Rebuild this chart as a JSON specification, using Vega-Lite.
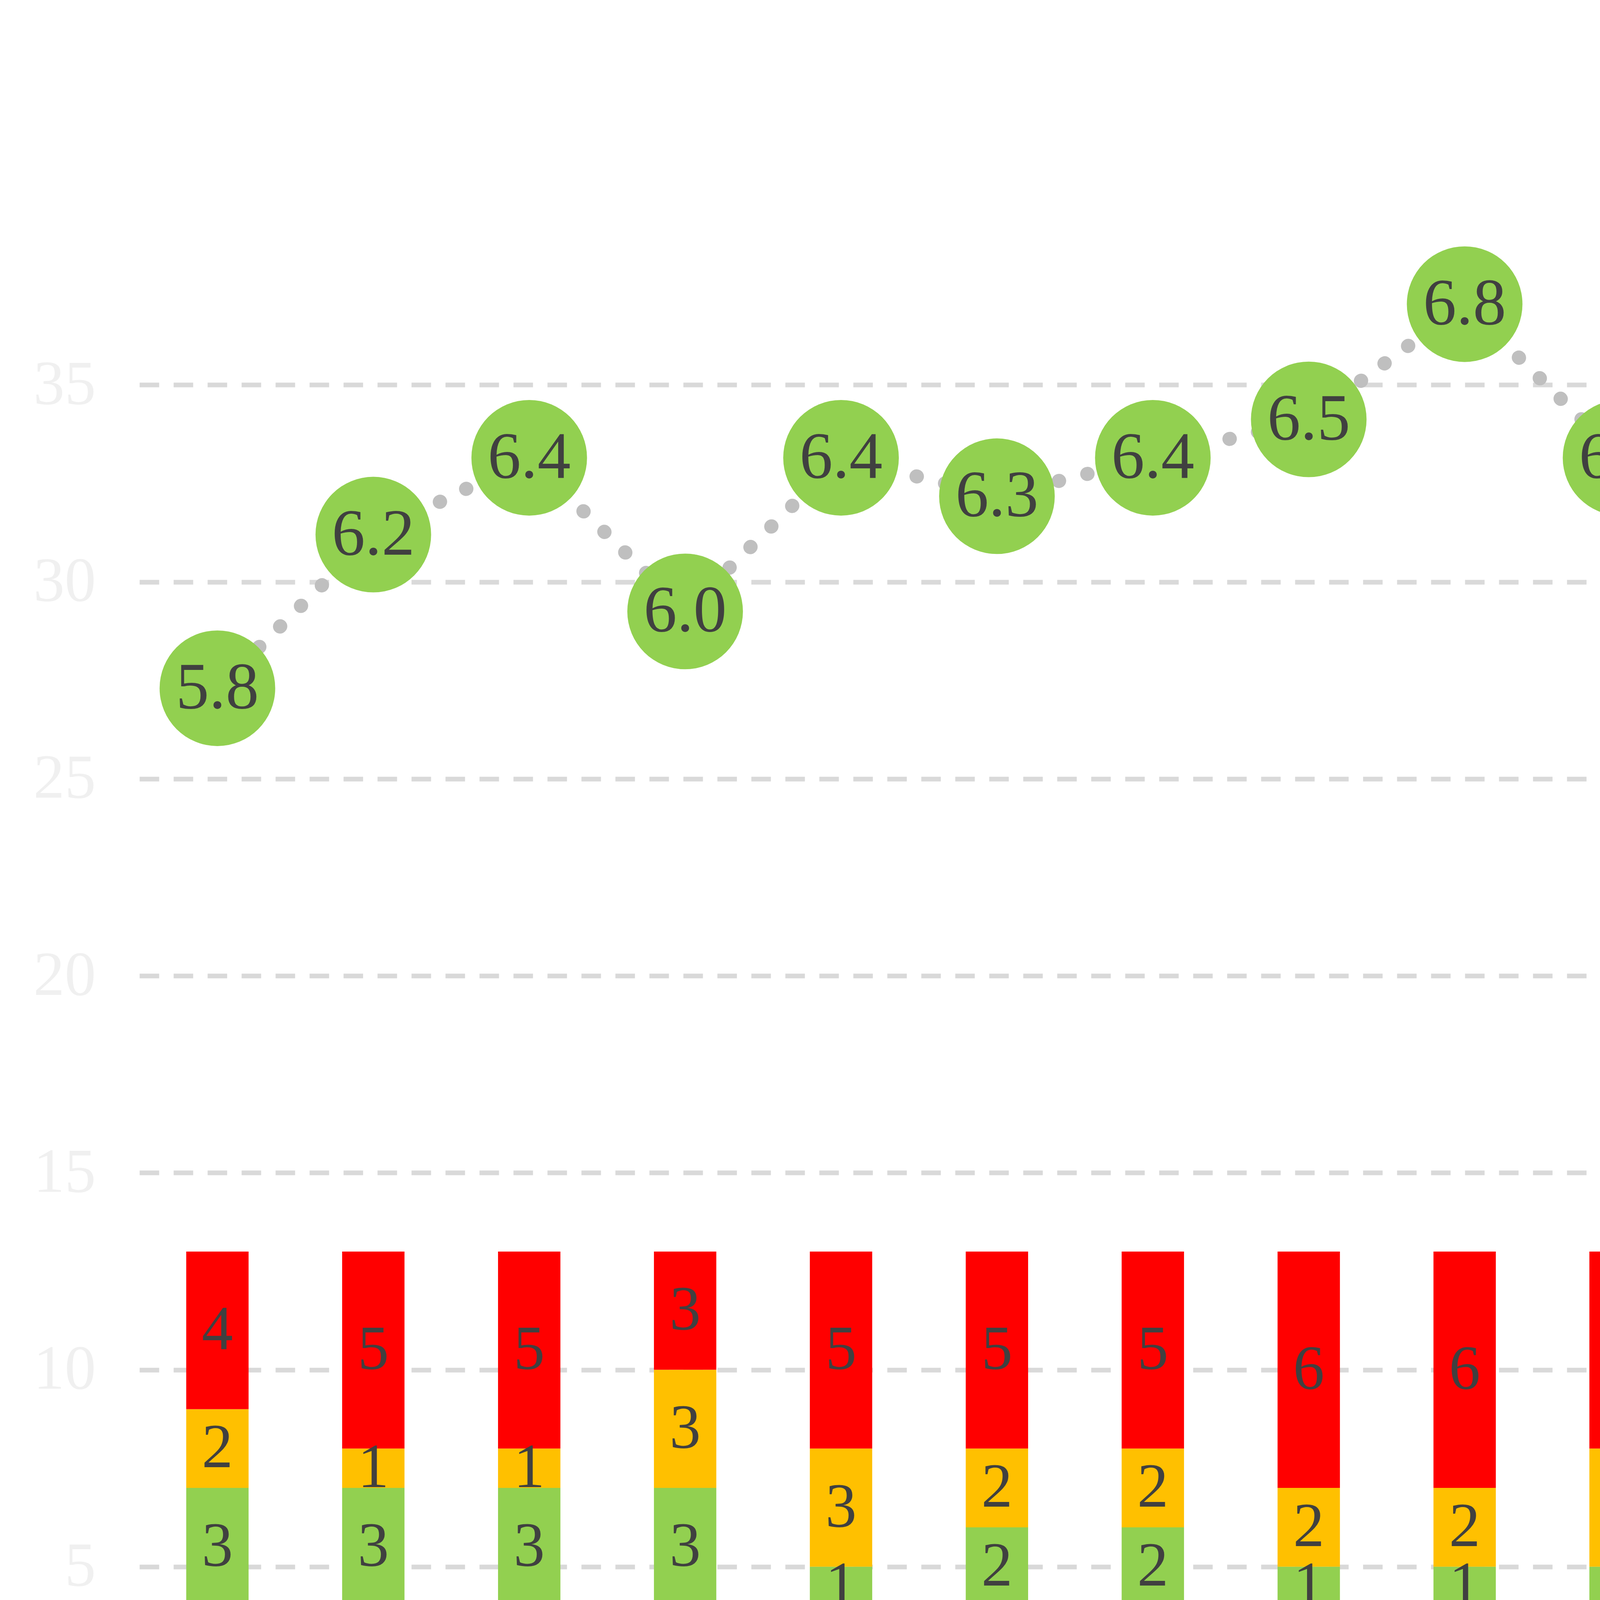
{
  "$schema": "https://vega.github.io/schema/vega-lite/v6.json",
  "width": 6785,
  "height": 3933,
  "padding": {"left": 357, "top": 582, "right": 572, "bottom": 779},
  "autosize": {"type": "none"},
  "background": "white",
  "config": {"view": {"stroke": null}},
  "datasets": {
    "rows": [
      {"m": "2025-06", "低迷": 3, "欠佳": 1, "穩定": 3, "偏熱": 2, "過熱": 4, "idx": 5.8},
      {"m": "2025-07", "低迷": 2, "欠佳": 2, "穩定": 3, "偏熱": 1, "過熱": 5, "idx": 6.2},
      {"m": "2025-08", "低迷": 2, "欠佳": 2, "穩定": 3, "偏熱": 1, "過熱": 5, "idx": 6.4},
      {"m": "2025-09", "低迷": 2, "欠佳": 2, "穩定": 3, "偏熱": 3, "過熱": 3, "idx": 6.0},
      {"m": "2025-10", "低迷": 2, "欠佳": 2, "穩定": 1, "偏熱": 3, "過熱": 5, "idx": 6.4},
      {"m": "2025-11", "低迷": 2, "欠佳": 2, "穩定": 2, "偏熱": 2, "過熱": 5, "idx": 6.3},
      {"m": "2025-12", "低迷": 2, "欠佳": 2, "穩定": 2, "偏熱": 2, "過熱": 5, "idx": 6.4},
      {"m": "2026-01", "低迷": 2, "欠佳": 2, "穩定": 1, "偏熱": 2, "過熱": 6, "idx": 6.5},
      {"m": "2026-02", "低迷": 2, "欠佳": 2, "穩定": 1, "偏熱": 2, "過熱": 6, "idx": 6.8},
      {"m": "2026-03", "低迷": 4, "欠佳": 0, "穩定": 1, "偏熱": 3, "過熱": 5, "idx": 6.4},
      {"m": "2026-04", "低迷": 4, "欠佳": 0, "穩定": 2, "偏熱": 1, "過熱": 6, "idx": 6.5},
      {"m": "2026-05", "低迷": 4, "欠佳": 0, "穩定": 1, "偏熱": 3, "過熱": 5, "idx": 6.3},
      {"m": "2026-06", "低迷": 4, "欠佳": 0, "穩定": 5, "偏熱": 3, "過熱": 3, "idx": 5.7},
      {"m": "2026-07", "低迷": 4, "欠佳": 0, "穩定": 4, "偏熱": 1, "過熱": 6, "idx": 6.1},
      {"m": "2026-08", "低迷": 4, "欠佳": 0, "穩定": 3, "偏熱": 2, "過熱": 6, "idx": 6.5},
      {"m": "2026-09", "低迷": 4, "欠佳": 0, "穩定": 4, "偏熱": 3, "過熱": 4, "idx": 6.1},
      {"m": "2026-10", "低迷": 4, "欠佳": 0, "穩定": 3, "偏熱": 3, "過熱": 5, "idx": 6.3}
    ],
    "box": [
      {"start": "2026-07", "end": "2026-10", "top": 37.9, "bottom": 0.3}
    ],
    "note": [
      {"m": "2026-09", "y": 24.5, "t": "預測值"}
    ]
  },
  "encoding": {
    "x": {
      "field": "m",
      "type": "nominal",
      "sort": null,
      "scale": {
        "domain": ["2025-06","2025-07","2025-08","2025-09","2025-10","2025-11","2025-12","2026-01","2026-02","2026-03","2026-04","2026-05","2026-06","2026-07","2026-08","2026-09","2026-10"],
        "paddingInner": 0.6,
        "paddingOuter": 0.3
      },
      "axis": {
        "title": null,
        "labelExpr": "datum.value == '2026-01' ? '2026…' : toNumber(slice(datum.value, 5)) + '月'",
        "labelAngle": -45,
        "labelAlign": "right",
        "labelBaseline": "middle",
        "labelFont": "Liberation Serif, Noto Sans CJK TC",
        "labelFontSize": 120,
        "labelColor": "#595959",
        "labelPadding": 162,
        "labelLimit": 0,
        "ticks": false,
        "domainColor": "#d9d9d9",
        "domainWidth": 13,
        "grid": false
      }
    }
  },
  "layer": [
    {
      "data": {"name": "rows"},
      "transform": [
        {"fold": ["低迷", "欠佳", "穩定", "偏熱", "過熱"], "as": ["cat", "v"]},
        {"calculate": "indexof(['低迷','欠佳','穩定','偏熱','過熱'], datum.cat)", "as": "ord"},
        {"stack": "v", "groupby": ["m"], "sort": [{"field": "ord", "order": "ascending"}], "as": ["y0", "y1"]},
        {"calculate": "(datum.y0 + datum.y1) / 2", "as": "mid"}
      ],
      "layer": [
        {
          "mark": {"type": "bar"},
          "encoding": {
            "y": {
              "field": "y0",
              "type": "quantitative",
              "scale": {"domain": [0, 39], "nice": false, "zero": true},
              "axis": {
                "title": null,
                "orient": "left",
                "values": [0, 5, 10, 15, 20, 25, 30, 35],
                "format": "d",
                "labelFont": "Liberation Serif",
                "labelFontSize": 160,
                "labelColor": "#f0f0f0",
                "labelPadding": 112,
                "labelLimit": 0,
                "ticks": false,
                "domain": false,
                "grid": true,
                "gridColor": "#d9d9d9",
                "gridWidth": 12,
                "gridDash": [50, 37]
              }
            },
            "y2": {"field": "y1"},
            "color": {
              "field": "cat",
              "type": "nominal",
              "scale": {
                "domain": ["低迷", "欠佳", "穩定", "偏熱", "過熱"],
                "range": ["#d9d9d9", "#00b0f0", "#92d050", "#ffc000", "#ff0000"]
              },
              "legend": {
                "title": null,
                "orient": "none",
                "legendX": 530,
                "legendY": 4172,
                "direction": "horizontal",
                "padding": 0,
                "symbolType": "M-1,-0.163H1V0.163H-1Z",
                "symbolSize": 178929,
                "symbolStrokeWidth": 0,
                "symbolOpacity": 1,
                "labelFont": "Noto Sans CJK TC",
                "labelFontSize": 160,
                "labelColor": "#595959",
                "labelOffset": 70,
                "labelLimit": 0,
                "columnPadding": 257
              }
            }
          }
        },
        {
          "transform": [{"filter": "!(datum.m == '2025-11' && datum.cat == '低迷')"}],
          "mark": {"type": "text", "font": "Liberation Serif", "fontSize": 160, "color": "#404040", "baseline": "middle", "align": "center"},
          "encoding": {
            "y": {"field": "mid", "type": "quantitative"},
            "text": {"field": "v", "type": "quantitative"}
          }
        }
      ]
    },
    {
      "data": {"name": "rows"},
      "layer": [
        {
          "mark": {"type": "line", "strokeWidth": 36, "strokeDash": [1, 74], "strokeCap": "round"},
          "encoding": {
            "y": {
              "field": "idx",
              "type": "quantitative",
              "scale": {"domain": [3, 7], "nice": false, "zero": false},
              "axis": {
                "title": null,
                "orient": "right",
                "values": [3, 3.5, 4, 4.5, 5, 5.5, 6, 6.5, 7],
                "format": ".1f",
                "labelFont": "Liberation Serif",
                "labelFontSize": 160,
                "labelColor": "#f0f0f0",
                "labelPadding": 111,
                "labelLimit": 0,
                "ticks": false,
                "domain": false,
                "grid": false
              }
            },
            "stroke": {
              "datum": "景氣指數",
              "type": "nominal",
              "scale": {"domain": ["景氣指數"], "range": ["#bfbfbf"]},
              "legend": {
                "title": null,
                "orient": "none",
                "legendX": 5847,
                "legendY": 4173,
                "padding": 0,
                "symbolType": "M-0.981,0a0.086,0.086 0 1,0 0.172,0a0.086,0.086 0 1,0 -0.172,0M-0.623,0a0.086,0.086 0 1,0 0.172,0a0.086,0.086 0 1,0 -0.172,0M-0.265,0a0.086,0.086 0 1,0 0.172,0a0.086,0.086 0 1,0 -0.172,0M0.093,0a0.086,0.086 0 1,0 0.172,0a0.086,0.086 0 1,0 -0.172,0M0.451,0a0.086,0.086 0 1,0 0.172,0a0.086,0.086 0 1,0 -0.172,0M0.809,0a0.086,0.086 0 1,0 0.172,0a0.086,0.086 0 1,0 -0.172,0",
                "symbolSize": 175561,
                "symbolFillColor": "#bfbfbf",
                "symbolStrokeWidth": 0,
                "symbolDash": [],
                "labelFont": "Noto Sans CJK TC",
                "labelFontSize": 160,
                "labelColor": "#595959",
                "labelOffset": 93,
                "labelLimit": 0
              }
            }
          }
        },
        {
          "mark": {"type": "point", "filled": true, "shape": "circle", "size": 87600, "opacity": 1},
          "encoding": {
            "y": {"field": "idx", "type": "quantitative"},
            "fill": {
              "datum": "指數點",
              "type": "nominal",
              "scale": {"domain": ["指數點"], "range": ["#92d050"]},
              "legend": {
                "title": null,
                "orient": "none",
                "legendX": 6036,
                "legendY": 4346,
                "padding": 0,
                "symbolType": "circle",
                "symbolSize": 5540,
                "symbolStrokeWidth": 0,
                "symbolOpacity": 1,
                "labelExpr": "''",
                "labelFontSize": 1,
                "labelOffset": 0
              }
            }
          }
        },
        {
          "mark": {"type": "text", "font": "Liberation Serif", "fontSize": 170, "color": "#404040", "baseline": "middle", "align": "center"},
          "encoding": {
            "y": {"field": "idx", "type": "quantitative"},
            "text": {"field": "idx", "type": "quantitative", "format": ".1f"}
          }
        }
      ]
    },
    {
      "layer": [
        {
          "data": {"name": "box"},
          "mark": {"type": "rect", "fill": "#bbbbbb", "fillOpacity": 0.24, "stroke": "#ff0000", "strokeWidth": 28, "strokeDash": [110, 75], "cornerRadius": 220},
          "encoding": {
            "x": {"field": "start", "type": "nominal", "bandPosition": 0.4},
            "x2": {"field": "end", "type": "nominal", "bandPosition": 1.96},
            "y": {"field": "top", "type": "quantitative", "scale": {"domain": [0, 39], "nice": false}, "axis": null},
            "y2": {"field": "bottom"}
          }
        },
        {
          "data": {"name": "note"},
          "mark": {"type": "text", "font": "Noto Sans CJK TC", "fontSize": 190, "fontWeight": "bold", "color": "#ff0000", "baseline": "middle", "align": "center"},
          "encoding": {
            "y": {"field": "y", "type": "quantitative"},
            "text": {"field": "t"}
          }
        }
      ]
    }
  ],
  "resolve": {"scale": {"y": "independent"}}
}
